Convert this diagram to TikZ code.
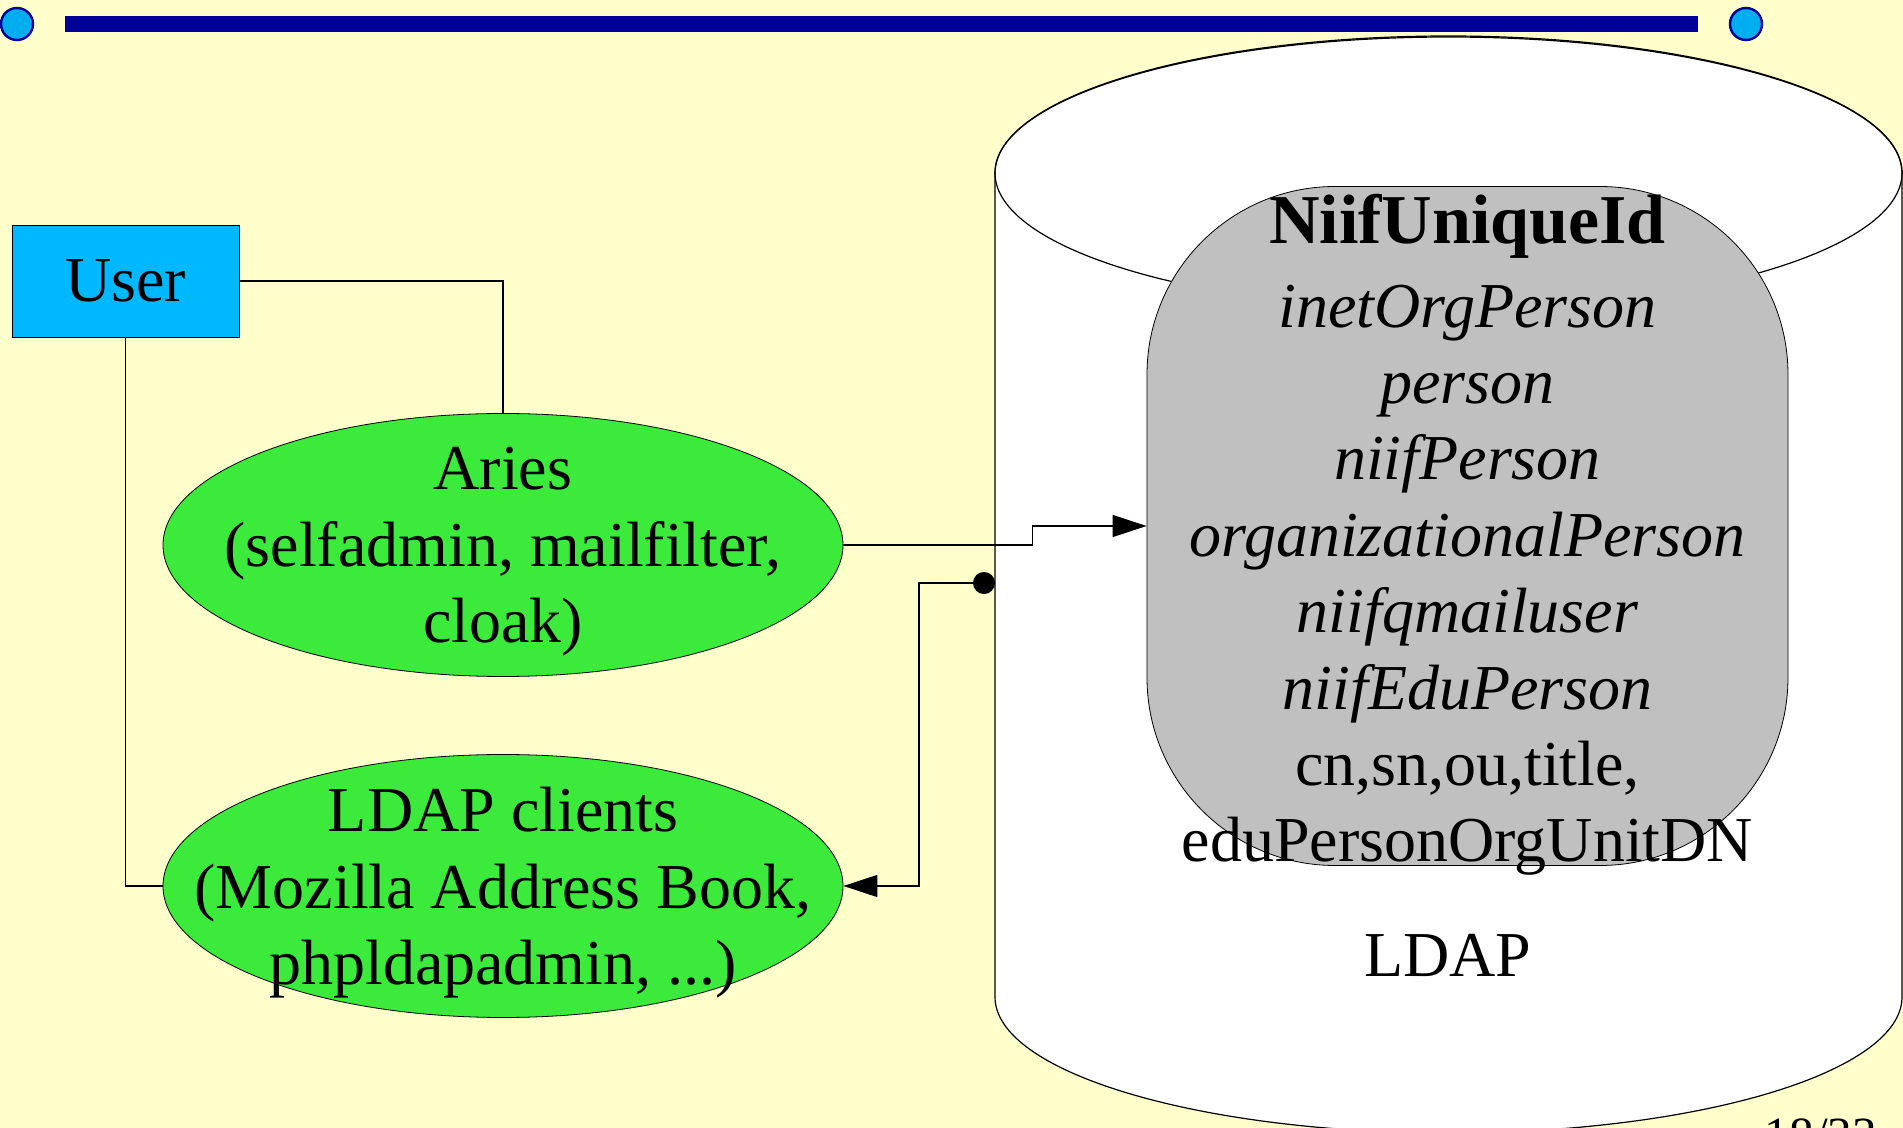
\documentclass[tikz,border=0pt]{standalone}
\usepackage{fontspec}
\setmainfont{Liberation Serif}
\usetikzlibrary{shapes.geometric,arrows.meta}

\definecolor{slidebg}{RGB}{255,255,204}
\definecolor{barblue}{RGB}{0,0,153}
\definecolor{userblue}{RGB}{0,184,255}
\definecolor{clientgreen}{RGB}{60,234,60}
\definecolor{attrgray}{RGB}{192,192,192}

\tikzstyle{big}=[font=\fontsize{32}{38.2}\selectfont]
\tikzstyle{userbox}=[rectangle, draw, fill=userblue, minimum width=113.5pt, minimum height=56pt, inner sep=0pt, big]
\tikzstyle{client}=[ellipse, draw, fill=clientgreen, minimum width=340pt, minimum height=131.5pt, inner sep=0pt]
\tikzstyle{attrbox}=[rectangle, draw, fill=attrgray, rounded corners=94pt, minimum width=320.5pt, minimum height=339.5pt, inner sep=0pt]
\tikzstyle{conn}=[line width=0.7pt]
\tikzstyle{bullet}=[draw=barblue, line width=1.2pt, fill=cyan]

\begin{document}
\begin{tikzpicture}[x=0.5pt, y=-0.5pt]
\useasboundingbox (0,0) rectangle (1903,1128);
\clip (0,0) rectangle (1903,1128);
\fill[slidebg] (0,0) rectangle (1903,1128);

\fill[barblue] (65,16) rectangle (1698,32);
\filldraw[bullet] (17,24) circle (16);
\filldraw[bullet] (1746,24) circle (16);

\filldraw[fill=white, line width=0.6pt] (995,173) -- (995,997) arc[start angle=180, end angle=0, x radius=453.5, y radius=136] -- (1902,173) arc[start angle=0, end angle=-180, x radius=453.5, y radius=136] -- cycle;
\draw[line width=0.6pt] (1448.5,173) ellipse [x radius=453.5, y radius=137];
\node[big] (ldaplabel) at (1448,955) {LDAP};
\coordinate (dbport) at (995,583);

\node[attrbox, label={[big, align=center, yshift=-4.5pt]center:{\fontsize{35}{38.2}\selectfont\textbf{NiifUniqueId}\\[3.6pt] \textit{inetOrgPerson}\\ \textit{person}\\ \textit{niifPerson}\\ \textit{organizationalPerson}\\ \textit{niifqmailuser}\\ \textit{niifEduPerson}\\ cn,sn,ou,title,\\ eduPersonOrgUnitDN}}] (attrs) at (1467.5,526) {};

\node[userbox] (user) at (125.5,281) {User};
\node[client, label={[big, align=center, yshift=-3.5pt]center:{Aries\\(selfadmin, mailfilter,\\cloak)}}] (aries) at (503,545) {};
\node[client, label={[big, align=center, yshift=-3.5pt]center:{LDAP clients\\(Mozilla Address Book,\\phpldapadmin, ...)}}] (ldapc) at (503,886) {};

\draw[conn] (user.east) -| (aries.north);
\draw[conn] (user.south) |- (ldapc.west);
\draw[conn, -{Triangle[length=17pt, width=11pt]}] (aries.east) -- ++(189,0) |- (attrs.west);
\draw[conn, {Circle[length=11pt]}-{Triangle[length=17pt, width=11pt]}] (dbport) -- ++(-76,0) |- (ldapc.east);

\node[font=\fontsize{24.6}{28}\selectfont, anchor=base] (pageno) at (1821,1151) {18/33};
\end{tikzpicture}
\end{document}
